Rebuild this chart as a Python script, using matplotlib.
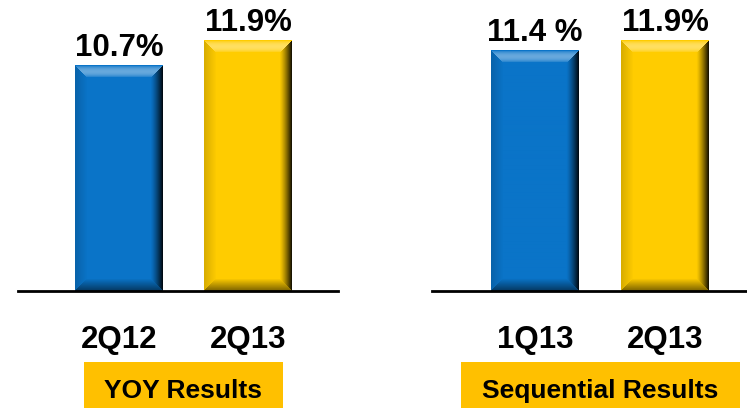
import numpy as np
import matplotlib
matplotlib.use("Agg")
import matplotlib.pyplot as plt
from matplotlib.colors import to_rgb
from matplotlib.patches import Rectangle

plt.rcParams["font.family"] = ["Liberation Sans", "DejaVu Sans"]
plt.rcParams["font.weight"] = "bold"

# data
yoy_labels = ["2Q12", "2Q13"]
yoy_values = [10.7, 11.9]
yoy_text = ["10.7%", "11.9%"]
seq_labels = ["1Q13", "2Q13"]
seq_values = [11.4, 11.9]
seq_text = ["11.4 %", "11.9%"]
panel_titles = ["YOY Results", "Sequential Results"]

BLUE = "#0A74C8"
GOLD = "#FFCC00"
BOX = "#FFC000"

W, H = 747, 410
fig = plt.figure(figsize=(W / 100, H / 100), dpi=100)
YMAX = 13.0


def px_ax(x0, x1, ybase, ytop):
    return fig.add_axes([x0 / W, (H - ybase) / H, (x1 - x0) / W, (ybase - ytop) / H])


def bevel_image(color, nx, ny, b=12):
    base = np.array(to_rgb(color))
    yy, xx = np.mgrid[0:ny, 0:nx]
    dt, db = yy, ny - 1 - yy
    dl, dr = xx, nx - 1 - xx
    d = np.stack([dt, db, dl, dr])
    m = d.min(axis=0)
    edge = d.argmin(axis=0)
    t = np.clip(1 - m / b, 0, 1)  # 1 at outer edge
    img = np.tile(base, (ny, nx, 1)).astype(float)
    inside = m < b
    white = np.ones(3)
    black = np.zeros(3)
    for k, (target, amt) in enumerate([(white, 0.38), (black, 0.5), (black, 0.15), (black, 0.9)]):
        sel = inside & (edge == k)
        if k == 0:
            # light band, brightest in the middle of the bevel
            f = amt * np.sin(np.pi * np.clip(1 - m / b, 0, 1)) ** 0.7
        elif k == 3:
            f = amt * t ** 1.3
        else:
            f = amt * t
        img[sel] = img[sel] * (1 - f[sel, None]) + target * f[sel, None]
    return img


def panel(ax, labels, values, texts, xlim, unit_px):
    colors = [BLUE, GOLD]
    x = np.arange(len(values))
    bars = ax.bar(x, values, width=88 / unit_px, color=colors, zorder=2)
    for bar, c in zip(bars, colors):
        bx, bw, bh = bar.get_x(), bar.get_width(), bar.get_height()
        nx = int(round(bw * unit_px))
        ny = int(round(bh * 274 / YMAX))
        ax.imshow(bevel_image(c, nx, ny), extent=[bx, bx + bw, 0, bh],
                  aspect="auto", zorder=3, interpolation="bilinear")
    ax.set_xlim(*xlim)
    ax.set_ylim(0, YMAX)
    for i, (v, t) in enumerate(zip(values, texts)):
        ax.annotate(t, (i, v), xytext=(0, 7.5), textcoords="offset points",
                    ha="center", va="baseline", fontsize=22.5, fontweight="bold")
        ax.annotate(labels[i], (i, 0), xytext=(0, -56 * 0.72), textcoords="offset points",
                    ha="center", va="baseline", fontsize=22.5, fontweight="bold")
    for s in ["top", "left", "right"]:
        ax.spines[s].set_visible(False)
    ax.spines["bottom"].set_linewidth(2.0)
    ax.spines["bottom"].set_zorder(4)
    ax.set_xticks([])
    ax.set_yticks([])
    ax.patch.set_alpha(0)


ax1 = px_ax(18, 338, 292, 18)
panel(ax1, yoy_labels, yoy_values, yoy_text, (-(119 - 18) / 129, (338 - 119) / 129), 129)
ax2 = px_ax(432, 747, 292, 18)
panel(ax2, seq_labels, seq_values, seq_text, (-(535 - 432) / 130, (747 - 535) / 130), 130)

for (x0, x1), title in zip([(84, 283), (461, 740)], panel_titles):
    fig.add_artist(Rectangle((x0 / W, (H - 409) / H), (x1 - x0) / W, 46 / H,
                             transform=fig.transFigure, facecolor=BOX, edgecolor="none"))
    fig.text((x0 + x1) / 2 / W, (H - 398) / H, title, ha="center", va="baseline",
             fontsize=19, fontweight="bold")

fig.savefig("out.png", dpi=100)
